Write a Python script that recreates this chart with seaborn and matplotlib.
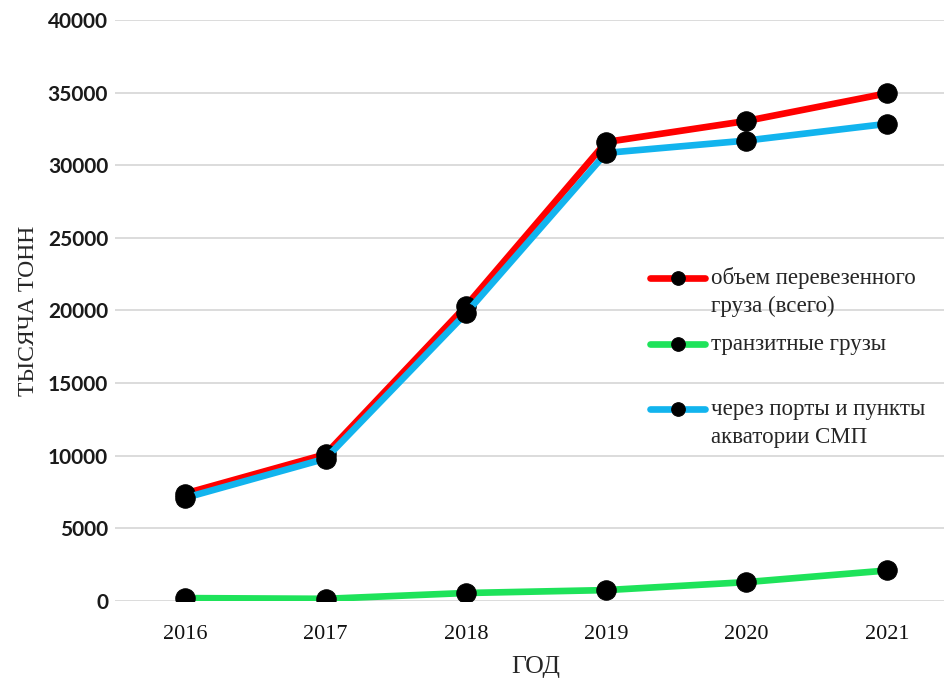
import matplotlib
matplotlib.use("Agg")
import matplotlib.pyplot as plt
from matplotlib.legend_handler import HandlerLine2D
import seaborn as sns
import pandas as pd

years = ["2016", "2017", "2018", "2019", "2020", "2021"]
total = [7400, 10100, 20300, 31600, 33050, 34950]
transit = [200, 150, 550, 750, 1300, 2100]
ports = [7100, 9800, 19800, 30850, 31700, 32850]

labels = ["объем перевезенного\nгруза (всего)", "транзитные грузы\n ",
          "через порты и пункты\nакватории СМП"]
colors = ["#FF0000", "#1EE35A", "#12B4EE"]

df = pd.DataFrame({"год": years * 3,
                   "value": total + transit + ports,
                   "series": [labels[0]] * 6 + [labels[1]] * 6 + [labels[2]] * 6})


class TopHandler(HandlerLine2D):
    # put the legend line next to the first text line, like in Excel
    def create_artists(self, *args, **kwargs):
        arts = super().create_artists(*args, **kwargs)
        for a in arts:
            a.set_ydata([y + 10 for y in a.get_ydata()])
        return arts


sns.set_style("white")
fig = plt.figure(figsize=(9.44, 6.83), dpi=100)
ax = fig.add_axes([115 / 944, (683 - 601) / 683, (957 - 115) / 944, 581 / 683])

for lab, col in zip(labels, colors):
    sns.lineplot(data=df[df["series"] == lab], x="год", y="value", ax=ax,
                 color=col, linewidth=4.8, marker="o", markersize=14,
                 markerfacecolor="black", markeredgecolor="black",
                 label=lab, sort=False)

ax.set_ylim(0, 40000)
ax.set_xlim(-0.5, 5.5)
ax.set_yticks(range(0, 40001, 5000))
ax.grid(axis="y", color="#d9d9d9", linewidth=1.3)
ax.set_axisbelow(True)
for s in ax.spines.values():
    s.set_visible(False)
ax.tick_params(length=0)
ax.tick_params(axis="y", pad=5)
ax.tick_params(axis="x", pad=17)
for t in ax.get_yticklabels():
    t.set_fontfamily("Lato")
    t.set_fontweight("bold")
    t.set_fontsize(15)
    t.set_color("#1a1a1a")
for t in ax.get_xticklabels():
    t.set_fontfamily("Liberation Serif")
    t.set_fontsize(16)
    t.set_color("#111111")

ax.set_xlabel("ГОД", family="Liberation Serif", fontsize=18.5)
ax.set_ylabel("ТЫСЯЧА ТОНН", family="Liberation Serif", fontsize=17)
ax.xaxis.set_label_coords(0.5, (601 - 656) / 581)
ax.yaxis.set_label_coords((39 - 115) / 842, 0.5)

handles, labs = ax.get_legend_handles_labels()
leg = ax.legend(handles, labs, loc="upper left",
                bbox_to_anchor=(650 / 944, 1 - 267 / 683),
                bbox_transform=fig.transFigure, frameon=False,
                prop={"family": "Liberation Serif", "size": 16.5},
                handlelength=2.4, handletextpad=0.25, labelspacing=0.7,
                markerscale=0.7, borderaxespad=0, borderpad=0,
                handler_map={h: TopHandler() for h in handles})
for t in leg.get_texts():
    t.set_linespacing(1.45)

fig.savefig("out.png", dpi=100)
